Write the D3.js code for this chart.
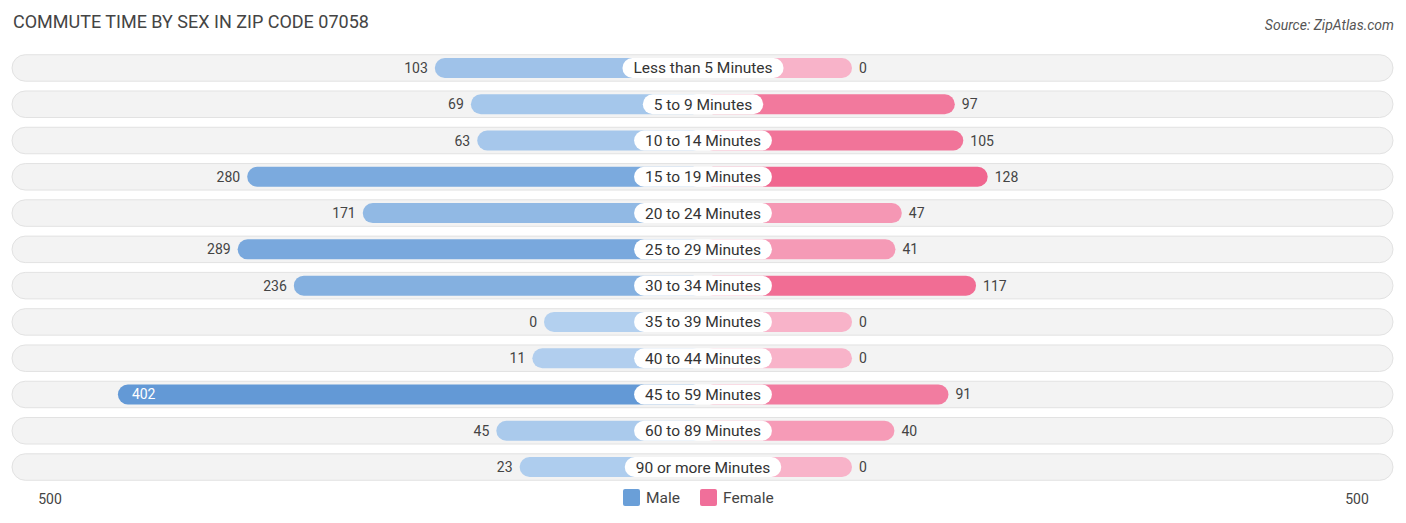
<!DOCTYPE html><html><head><meta charset="utf-8"><script src="https://d3js.org/d3.v7.min.js"></script>
<style>body{margin:0;background:#fff;font-family:Roboto,sans-serif}</style></head><body><svg id="c" width="1406" height="523"></svg>
<script>
const categories=["Less than 5 Minutes","5 to 9 Minutes","10 to 14 Minutes","15 to 19 Minutes","20 to 24 Minutes","25 to 29 Minutes","30 to 34 Minutes","35 to 39 Minutes","40 to 44 Minutes","45 to 59 Minutes","60 to 89 Minutes","90 or more Minutes"];
const male=[103,69,63,280,171,289,236,0,11,402,45,23];
const female=[0,97,105,128,47,41,117,0,0,91,40,0];
const svg=d3.select("#c");
const cx=703,off=149;
const x=d3.scaleLinear().domain([0,500]).range([0,530]);
const y=d3.scaleBand().domain(categories).range([50,485]).paddingInner(0.27).paddingOuter(0.13);
const mc=d3.scaleLinear().domain([0,402]).range(["#b3d0ef","#6399d6"]);
const fc=d3.scaleLinear().domain([0,128]).range(["#f8b3c9","#f0668f"]);
svg.append("text").attr("x",13).attr("y",28).attr("font-size",18).attr("fill","#444").text("COMMUTE TIME BY SEX IN ZIP CODE 07058");
svg.append("text").attr("x",1394).attr("y",30).attr("text-anchor","end").attr("font-size",14).attr("font-style","italic").attr("fill","#555").text("Source: ZipAtlas.com");
const g=svg.selectAll("g.r").data(categories).join("g").attr("transform",d=>`translate(0,${y(d)})`);
const h=y.bandwidth();
g.append("rect").attr("x",12).attr("width",1381).attr("height",h).attr("rx",h/2).attr("fill","#f3f3f3").attr("stroke","#e2e2e2");
const bh=20,by=(h-bh)/2;
g.append("rect").attr("x",(d,i)=>cx-off-x(male[i])-10).attr("y",by).attr("height",bh).attr("width",(d,i)=>off+x(male[i])+10).attr("rx",10).attr("fill",(d,i)=>mc(male[i]));
g.append("rect").attr("x",cx).attr("y",by).attr("height",bh).attr("width",(d,i)=>off+x(female[i])).attr("rx",10).attr("fill",(d,i)=>fc(female[i]));
g.each(function(d,i){
 const s=d3.select(this);
 const t=s.append("text").attr("x",cx).attr("y",h/2+5.5).attr("text-anchor","middle").attr("font-size",15.5).attr("fill","#333").text(d);
 const w=t.node().getComputedTextLength()+22;
 s.insert("rect","text:last-of-type").attr("x",cx-w/2).attr("y",by).attr("width",w).attr("height",bh).attr("rx",10).attr("fill","#fff");
 const mx=cx-off-x(male[i])-10;
 if(male[i]>350) s.append("text").attr("x",mx+14).attr("y",h/2+5).attr("font-size",14).attr("fill","#fff").text(male[i]);
 else s.append("text").attr("x",mx-7).attr("y",h/2+5).attr("text-anchor","end").attr("font-size",14).attr("fill","#444").text(male[i]);
 s.append("text").attr("x",cx+off+x(female[i])+7).attr("y",h/2+5).attr("font-size",14).attr("fill","#444").text(female[i]);
});
svg.append("text").attr("x",50).attr("y",504).attr("text-anchor","middle").attr("font-size",14).attr("fill","#444").text("500");
svg.append("text").attr("x",1357).attr("y",504).attr("text-anchor","middle").attr("font-size",14).attr("fill","#444").text("500");
const lg=[["Male","#6a9fd8",623],["Female","#f06f9a",700]];
lg.forEach(([n,c,lx])=>{svg.append("rect").attr("x",lx).attr("y",489).attr("width",17).attr("height",17).attr("rx",2).attr("fill",c);
svg.append("text").attr("x",lx+23).attr("y",503).attr("font-size",15.5).attr("fill","#444").text(n);});
</script></body></html>
